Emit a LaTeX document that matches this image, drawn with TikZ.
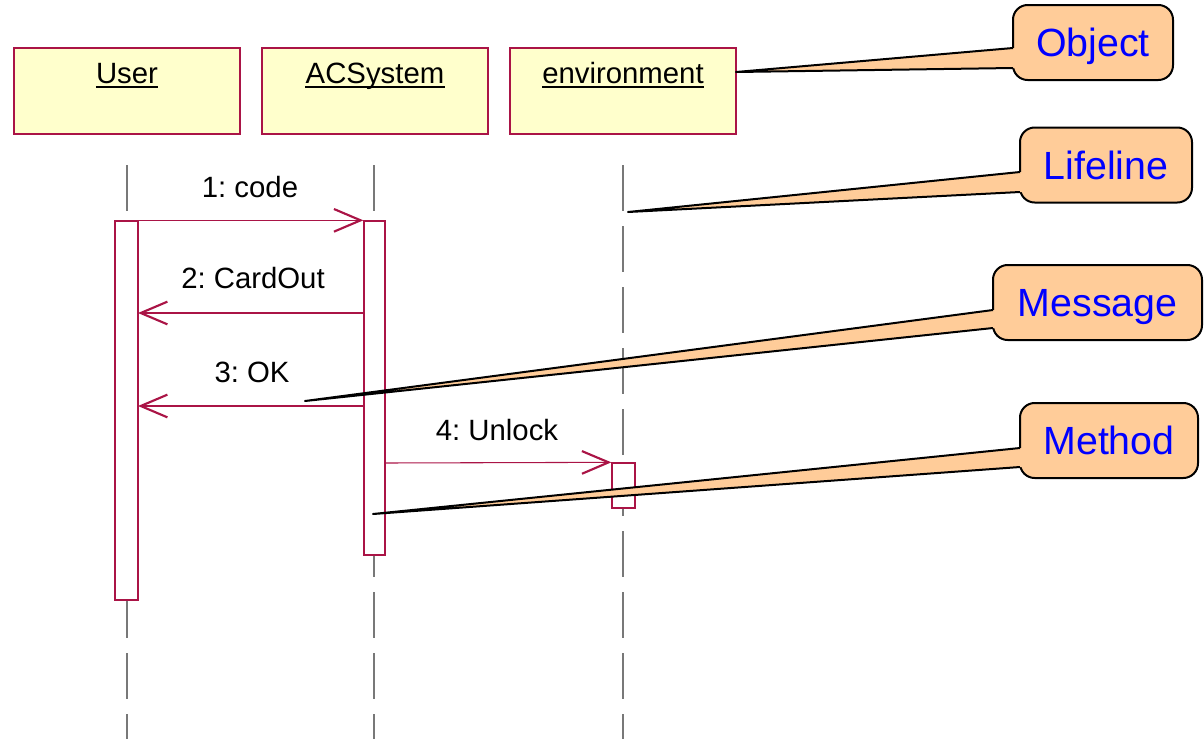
\documentclass[tikz,border=0pt]{standalone}
\usepackage{fontspec}
\setmainfont{Liberation Sans}
\usetikzlibrary{arrows.meta}
\definecolor{umlred}{RGB}{170,20,70}
\definecolor{objfill}{RGB}{255,255,204}
\definecolor{notefill}{RGB}{255,204,153}
\definecolor{lifegray}{RGB}{120,120,120}
\frenchspacing
\begin{document}
\begin{tikzpicture}[x=0.75pt,y=-0.75pt]
					\tikzstyle{object}=[rectangle,draw=umlred,fill=objfill,line width=1pt,minimum width=169.5pt,minimum height=64.5pt,inner sep=0pt]
					\tikzstyle{txt}=[font=\fontsize{22}{26}\selectfont,inner sep=0pt,text height=15.75pt,text depth=0pt]
					\tikzstyle{uline}=[draw=black,line width=1.6pt]
					\tikzstyle{lifeline}=[draw=lifegray,line width=1.2pt,dash pattern=on 34.5pt off 11.25pt]
					\tikzstyle{activation}=[rectangle,draw=umlred,fill=white,line width=1pt,inner sep=0pt]
					\tikzstyle{msg}=[draw=umlred,line width=0.8pt,-{Straight Barb[length=20pt,width=17pt,line width=1.6pt]}]
					\tikzstyle{callout}=[rectangle,rounded corners=11pt,draw=black,fill=notefill,line width=1.5pt,minimum height=56.25pt,text height=21pt,text depth=0pt,text=blue,font=\fontsize{29.5}{34}\selectfont]
					\tikzstyle{tail}=[draw=black,line width=1.5pt,line join=round]
					\useasboundingbox (0,0) rectangle (1204,739);
					% objects
					\node[object] (user) at (127,91) {};
					\node[object] (acs) at (375,91) {};
					\node[object] (env) at (623,91) {};
					\node[txt] (username) at (127,72.5) {User};
					\node[txt] (acsname) at (375,72.5) {ACSystem};
					\node[txt] (envname) at (623,72.5) {environment};
					\draw[uline] ([yshift=-2.6pt]username.south west) -- ([yshift=-2.6pt]username.south east);
					\draw[uline] ([yshift=-2.6pt]acsname.south west) -- ([yshift=-2.6pt]acsname.south east);
					\draw[uline] ([yshift=-2.6pt]envname.south west) -- ([yshift=-2.6pt]envname.south east);
					% lifelines
					\draw[lifeline] (127,165) -- (127,739);
					\draw[lifeline] (374,165) -- (374,739);
					\draw[lifeline] (623,165) -- (623,739);
					% activations
					\node[activation,minimum width=17.25pt,minimum height=284.25pt] (useract) at (126.5,410.5) {};
					\node[activation,minimum width=15.75pt,minimum height=250.5pt] (acsact) at (374.5,388) {};
					\node[activation,minimum width=17.25pt,minimum height=33.75pt] (envact) at (623.5,485.5) {};
					% messages
					\coordinate (m2s) at (364,313);
					\coordinate (m2e) at (138,313);
					\coordinate (m3s) at (364,406);
					\coordinate (m3e) at (138,406);
					\coordinate (m4s) at (385,463);
					\draw[msg] (useract.north east) -- (acsact.north west);
					\draw[msg] (m2s) -- (m2e);
					\draw[msg] (m3s) -- (m3e);
					\draw[msg] (m4s) -- (envact.north west);
					\node[txt] (l1) at (250,187) {1: code};
					\node[txt] (l2) at (253,278) {2: CardOut};
					\node[txt] (l3) at (252,372) {3: OK};
					\node[txt] (l4) at (497,430) {4: Unlock};
					% callouts
					\node[callout,minimum width=120pt] (cobj) at (1093,42.5) {Object};
					\node[callout,minimum width=129pt] (clife) at (1106,165) {Lifeline};
					\node[callout,minimum width=156.75pt] (cmsg) at (1097.5,302.5) {Message};
					\node[callout,minimum width=133.5pt] (cmeth) at (1109,440.5) {Method};
					\coordinate (objtip) at (736,72);
					\coordinate (objb1) at (1013,48);
					\coordinate (objb2) at (1013,68);
					\coordinate (lifetip) at (628,212);
					\coordinate (lifeb1) at (1020,172);
					\coordinate (lifeb2) at (1020,192);
					\coordinate (msgtip) at (305,401);
					\coordinate (msgb1) at (993,310);
					\coordinate (msgb2) at (993,328);
					\coordinate (methtip) at (373,514);
					\coordinate (methb1) at (1020,448);
					\coordinate (methb2) at (1020,467);
					\fill[notefill] (objb1) -- (objtip) -- (objb2) -- ++(6,0) |- (objb1) -- cycle;
					\fill[notefill] (lifeb1) -- (lifetip) -- (lifeb2) -- ++(6,0) |- (lifeb1) -- cycle;
					\fill[notefill] (msgb1) -- (msgtip) -- (msgb2) -- ++(6,0) |- (msgb1) -- cycle;
					\fill[notefill] (methb1) -- (methtip) -- (methb2) -- ++(6,0) |- (methb1) -- cycle;
					\draw[tail] (objb1) -- (objtip) -- (objb2);
					\draw[tail] (lifeb1) -- (lifetip) -- (lifeb2);
					\draw[tail] (msgb1) -- (msgtip) -- (msgb2);
					\draw[tail] (methb1) -- (methtip) -- (methb2);
\end{tikzpicture}
\end{document}
